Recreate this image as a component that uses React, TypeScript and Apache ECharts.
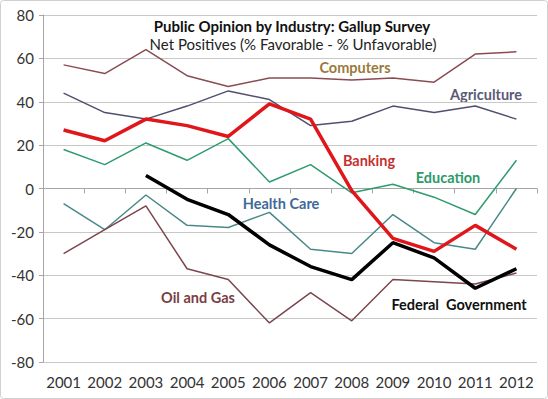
import React, { useEffect, useRef } from "react";
import * as echarts from "echarts";

const years = ["2001", "2002", "2003", "2004", "2005", "2006", "2007", "2008", "2009", "2010", "2011", "2012"];
const computers = [57, 53, 64, 52, 47, 51, 51, 50, 51, 49, 62, 63];
const agriculture = [44, 35, 32, 38, 45, 41, 29, 31, 38, 35, 38, 32];
const banking = [27, 22, 32, 29, 24, 39, 32, -1, -23, -29, -17, -28];
const education = [18, 11, 21, 13, 23, 3, 11, -2, 2, -4, -12, 13];
const healthCare = [-7, -19, -3, -17, -18, -11, -28, -30, -12, -25, -28, 0];
const oilAndGas = [-30, -19, -8, -37, -42, -62, -48, -61, -42, -43, -44, -39];
const federalGov = [null, null, 6, -5, -12, -26, -36, -42, -25, -32, -46, -37];

const FONT = "Lato, 'Open Sans', sans-serif";

export default function App() {
  const ref = useRef<HTMLDivElement>(null);
  useEffect(() => {
    if (!ref.current) return;
    const chart = echarts.init(ref.current, null, { renderer: "svg" });
    const line = (name: string, data: (number | null)[], color: string, width: number, z = 2) => ({
      name,
      type: "line",
      data,
      symbol: "none",
      z,
      lineStyle: { color, width },
      itemStyle: { color },
    });
    const label = (text: string, x: number, y: number, color: string) => ({
      type: "text",
      x,
      y,
      style: {
        text,
        fill: color,
        font: `bold 14.5px ${FONT}`,
        textAlign: "center",
        textVerticalAlign: "middle",
      },
    });
    chart.setOption({
      animation: false,
      backgroundColor: "#ffffff",
      grid: { left: 43, right: 11, top: 15, bottom: 37 },
      xAxis: {
        type: "category",
        data: years,
        boundaryGap: true,
        axisLine: { lineStyle: { color: "#a6a6a6" } },
        axisTick: { show: true, length: 5, lineStyle: { color: "#a6a6a6" } },
        axisLabel: { color: "#333", fontSize: 15, fontFamily: FONT, margin: 12, interval: 0 },
      },
      yAxis: {
        type: "value",
        min: -80,
        max: 80,
        interval: 20,
        axisLine: { show: true, lineStyle: { color: "#a6a6a6" } },
        axisTick: { show: true, length: 4, lineStyle: { color: "#a6a6a6" } },
        axisLabel: { color: "#333", fontSize: 15, fontFamily: FONT, margin: 9 },
        splitLine: { lineStyle: { color: "#c8c8c8" } },
      },
      series: [
        line("Computers", computers, "#8a4c52", 1.5),
        line("Agriculture", agriculture, "#50506e", 1.5),
        line("Education", education, "#2f9b6e", 1.5),
        line("Health Care", healthCare, "#4a8888", 1.5),
        line("Oil and Gas", oilAndGas, "#7b464c", 1.5),
        line("Banking", banking, "#e0161b", 3.5, 5),
        line("Federal Government", federalGov, "#000000", 3.5, 4),
      ],
      graphic: [
        {
          type: "rect",
          shape: { x: 0.5, y: 0.5, width: 547, height: 398, r: 3 },
          style: { fill: "none", stroke: "#d0d0d0", lineWidth: 1 },
          silent: true,
        },
        {
          type: "text",
          x: 292,
          y: 26,
          style: { text: "Public Opinion by Industry: Gallup Survey", fill: "#111", font: `bold 15px ${FONT}`, textAlign: "center", textVerticalAlign: "middle" },
        },
        {
          type: "text",
          x: 293,
          y: 44,
          style: { text: "Net Positives (% Favorable - % Unfavorable)", fill: "#222", font: `15px ${FONT}`, textAlign: "center", textVerticalAlign: "middle" },
        },
        label("Computers", 355, 67, "#9a7a3c"),
        label("Agriculture", 486, 94, "#5a5a78"),
        label("Banking", 369, 160, "#c4302f"),
        label("Education", 448, 177, "#2e9a6a"),
        label("Health Care", 281, 203, "#3e6a98"),
        label("Oil and Gas", 198, 297, "#7a3e45"),
        label("Federal  Government", 459, 304, "#111"),
      ],
    });
    return () => chart.dispose();
  }, []);
  return <div ref={ref} style={{ position: "absolute", left: 0, top: 0, width: 548, height: 399 }} />;
}
